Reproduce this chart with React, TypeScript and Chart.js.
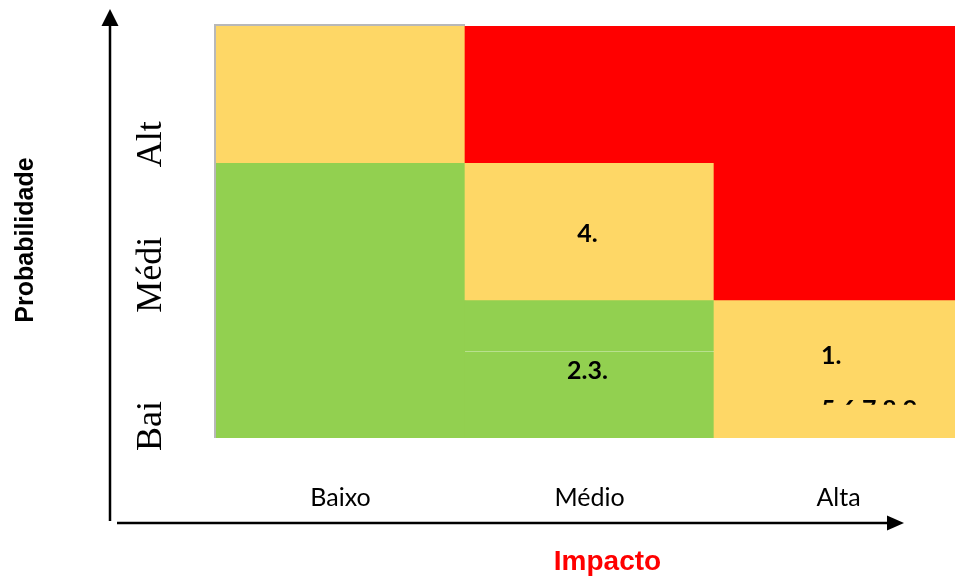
import React, { useEffect, useRef } from 'react';
import { Chart, registerables } from 'chart.js';

Chart.register(...registerables);

// ---- data ----
const impactLabels = ['Baixo', 'Médio', 'Alta'];
const probabilityLabels = ['Bai', 'Médi', 'Alt']; // bottom to top (labels as shown, truncated)
const rowUnits = [1, 1, 1]; // each cell spans one probability unit
const riskBai = ['low', 'low', 'mid'];
const riskMedi = ['low', 'mid', 'high'];
const riskAlt = ['mid', 'high', 'high'];
const textBai = ['', '2.3.', '1.\n5.6.7.8.9'];
const textMedi = ['', '4.', ''];
const textAlt = ['', '', ''];
const xTitle = 'Impacto';
const yTitle = 'Probabilidade';

// ---- styles ----
const riskColors: Record<string, string> = { low: '#92D050', mid: '#FED766', high: '#FF0000' };
const rowLabelShift = [13, 12, 4];

const overlay = {
  id: 'overlay',
  afterDatasetsDraw(chart: any) {
    const { ctx, scales } = chart;
    const x = scales.x;
    const y = scales.y;
    const colW = x.getPixelForValue(1) - x.getPixelForValue(0);
    ctx.save();

    // faint seam inside middle-bottom cell
    ctx.strokeStyle = 'rgba(255,255,255,0.35)';
    ctx.lineWidth = 1;
    ctx.beginPath();
    ctx.moveTo(x.getPixelForValue(1) - colW / 2, 351.5);
    ctx.lineTo(x.getPixelForValue(1) + colW / 2, 351.5);
    ctx.stroke();

    // grey border left / top
    ctx.strokeStyle = '#B8B8B8';
    ctx.lineWidth = 2;
    const left = chart.chartArea.left;
    const top = chart.chartArea.top;
    const bottom = chart.chartArea.bottom;
    ctx.beginPath();
    ctx.moveTo(left - 1, top - 1);
    ctx.lineTo(left - 1, bottom);
    ctx.moveTo(left - 2, top - 1);
    ctx.lineTo(left + colW, top - 1);
    ctx.stroke();

    // cell texts
    const texts = [textBai, textMedi, textAlt];
    ctx.fillStyle = '#000';
    ctx.font = 'bold 25px Lato';
    texts.forEach((row, r) => {
      row.forEach((t, c) => {
        if (!t) return;
        const cx = x.getPixelForValue(c);
        const cTop = y.getPixelForValue(r + 1);
        const cBottom = y.getPixelForValue(r);
        const lines = t.split('\n');
        if (lines.length === 1) {
          ctx.textAlign = 'center';
          ctx.textBaseline = 'middle';
          ctx.fillText(t, cx - 2, (cTop + cBottom) / 2 + 2);
        } else {
          ctx.save();
          ctx.beginPath();
          ctx.rect(cx - colW / 2, cTop, colW, 104);
          ctx.clip();
          ctx.textAlign = 'left';
          ctx.textBaseline = 'middle';
          lines.forEach((ln, k) => ctx.fillText(ln, cx - 17.5, cTop + 55 + k * 54));
          ctx.restore();
        }
      });
    });

    // row labels (rotated, serif)
    ctx.font = '36px "Liberation Serif"';
    ctx.textAlign = 'left';
    ctx.textBaseline = 'alphabetic';
    probabilityLabels.forEach((lab, r) => {
      const yStart = y.getPixelForValue(r) + rowLabelShift[r];
      ctx.save();
      ctx.translate(161, yStart);
      ctx.rotate(-Math.PI / 2);
      ctx.fillText(lab, 0, 0);
      ctx.restore();
    });

    // arrows
    ctx.strokeStyle = '#000';
    ctx.fillStyle = '#000';
    ctx.lineWidth = 2.5;
    ctx.beginPath();
    ctx.moveTo(110, 521);
    ctx.lineTo(110, 24);
    ctx.stroke();
    ctx.beginPath();
    ctx.moveTo(110, 9);
    ctx.lineTo(118.5, 26);
    ctx.lineTo(101.5, 26);
    ctx.closePath();
    ctx.fill();

    ctx.beginPath();
    ctx.moveTo(117, 523);
    ctx.lineTo(890, 523);
    ctx.stroke();
    ctx.beginPath();
    ctx.moveTo(904, 523);
    ctx.lineTo(887, 515.5);
    ctx.lineTo(887, 530.5);
    ctx.closePath();
    ctx.fill();

    // titles
    ctx.font = 'bold 28px "Liberation Sans"';
    ctx.fillStyle = '#FF0000';
    ctx.textAlign = 'center';
    ctx.textBaseline = 'alphabetic';
    ctx.fillText(xTitle, 607.5, 570);

    ctx.font = 'bold 25px "Liberation Sans"';
    ctx.fillStyle = '#000';
    ctx.save();
    ctx.translate(33, 240);
    ctx.rotate(-Math.PI / 2);
    ctx.fillText(yTitle, 0, 0);
    ctx.restore();

    ctx.restore();
  },
};

export default function App() {
  const ref = useRef<HTMLCanvasElement>(null);
  useEffect(() => {
    if (!ref.current) return;
    const rows = [riskBai, riskMedi, riskAlt];
    const chart = new Chart(ref.current, {
      type: 'bar',
      data: {
        labels: impactLabels,
        datasets: rows.map((risk, i) => ({
          label: probabilityLabels[i],
          data: rowUnits.map(() => rowUnits[i]),
          backgroundColor: risk.map((k) => riskColors[k]),
          borderWidth: 0,
          categoryPercentage: 1,
          barPercentage: 1,
        })),
      },
      options: {
        animation: false,
        responsive: true,
        maintainAspectRatio: false,
        layout: { padding: { left: 216, top: 26, right: 0, bottom: 20 } },
        plugins: { legend: { display: false }, tooltip: { enabled: false } },
        scales: {
          x: {
            stacked: true,
            grid: { display: false, drawTicks: false },
            border: { display: false },
            ticks: { color: '#000', font: { family: 'Lato', size: 25 }, padding: 45 },
          },
          y: {
            stacked: true,
            display: false,
            min: 0,
            max: 3,
          },
        },
      },
      plugins: [overlay],
    });
    return () => chart.destroy();
  }, []);

  return (
    <div style={{ position: 'absolute', left: 0, top: 0, width: 955, height: 578, overflow: 'hidden', background: '#fff' }}>
      <div style={{ position: 'relative', width: 963, height: 578 }}>
        <canvas ref={ref} />
      </div>
    </div>
  );
}
